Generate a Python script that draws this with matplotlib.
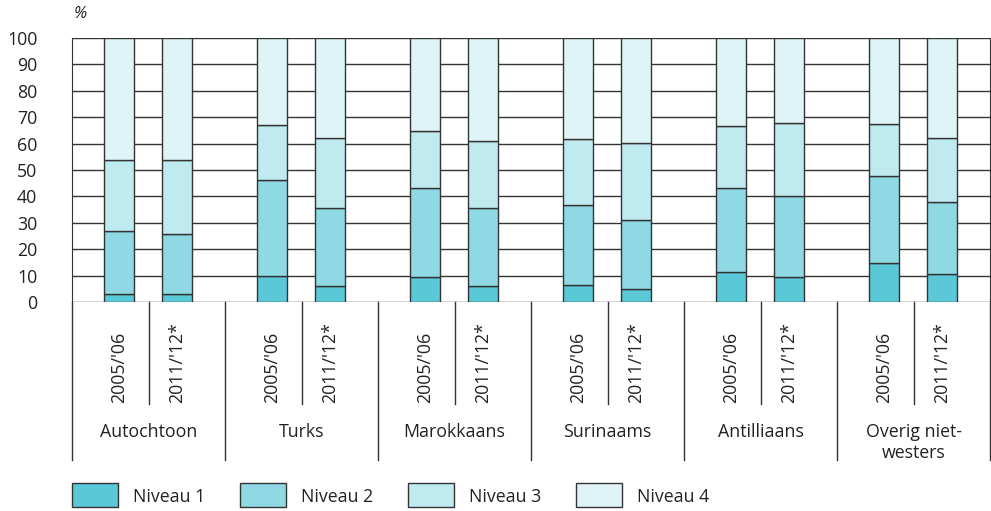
import matplotlib.pyplot as plt
from matplotlib.patches import Rectangle
import numpy as np

plt.rcParams["font.family"] = ["Open Sans", "DejaVu Sans"]

groups = ["Autochtoon", "Turks", "Marokkaans", "Surinaams", "Antilliaans", "Overig niet-\nwesters"]
years = ["2005/'06", "2011/'12*"]

# cumulative tops, per bar (2005/'06, 2011/'12* for each group)
top_n1 = [3, 3, 9.7, 6.0, 9.6, 6.0, 6.6, 4.9, 11.2, 9.5, 14.9, 10.7]
top_n2 = [26.8, 25.6, 46.4, 35.7, 43.3, 35.6, 36.8, 30.9, 43.0, 40.0, 47.9, 38.0]
top_n3 = [53.8, 53.6, 67.2, 62.3, 64.9, 60.8, 61.9, 60.2, 66.6, 67.7, 67.5, 62.3]

n1 = np.array(top_n1)
n2 = np.array(top_n2) - np.array(top_n1)
n3 = np.array(top_n3) - np.array(top_n2)
n4 = 100 - np.array(top_n3)

labels = ["Niveau 1", "Niveau 2", "Niveau 3", "Niveau 4"]
colors = ["#5bc8d8", "#8ed9e4", "#bfeaef", "#dff4f7"]
txt = "#222222"
fs = 12.8

fig = plt.figure(figsize=(9.91, 5.11), dpi=100)
W, H = 991, 511
ax = fig.add_axes([72 / W, (H - 302) / H, (990 - 72) / W, 264 / H])

x = []
for i in range(len(groups)):
    x += [i + 0.307, i + 0.686]
x = np.array(x)
bw = 0.196

for y in range(0, 101, 10):
    ax.axhline(y, color="#333333", lw=1, zorder=0)

bottom = np.zeros(len(x))
for vals, c in zip([n1, n2, n3, n4], colors):
    ax.bar(x, vals, bw, bottom=bottom, color=c, edgecolor="#333333", lw=1, zorder=2)
    bottom += vals

ax.set_xlim(0, 6)
ax.set_ylim(0, 100)
ax.set_yticks(range(0, 101, 10))
# pad is in points: label right edge near x=37 px
ax.tick_params(axis="y", length=0, labelsize=fs, labelcolor=txt, pad=25)
ax.set_xticks([])
for s in ["top", "bottom"]:
    ax.spines[s].set_visible(False)
ax.spines["left"].set_color("#333333")
ax.spines["right"].set_color("#333333")

# category area below the axis (pixel -> data units)
k = 100 / 264
for i in range(len(groups) + 1):
    ax.plot([i, i], [0, -(460 - 302) * k], color="#333333", lw=1, clip_on=False)
for i in range(len(groups)):
    ax.plot([i + 0.5, i + 0.5], [0, -(404 - 302) * k], color="#333333", lw=1, clip_on=False)
    for j in range(2):
        ax.text(x[2 * i + j], -(403 - 302) * k, years[j], rotation=90, ha="center", va="bottom",
                fontsize=fs, color=txt)
    ax.text(i + 0.5, -(423 - 302) * k, groups[i], ha="center", va="top", fontsize=fs,
            color=txt, linespacing=1.2)

fig.text(80 / W, 1 - 14 / H, "%", fontsize=12, style="italic", color=txt, ha="center", va="center")

# legend
for i, (lab, c) in enumerate(zip(labels, colors)):
    x0 = 72 + i * 168
    fig.add_artist(Rectangle((x0 / W, 1 - 507 / H), 46 / W, 24 / H, facecolor=c,
                             edgecolor="#333333", lw=1, transform=fig.transFigure))
    fig.text((x0 + 61) / W, 1 - 497 / H, lab, fontsize=fs, color=txt, ha="left", va="center")

fig.savefig("out.png", dpi=100)
